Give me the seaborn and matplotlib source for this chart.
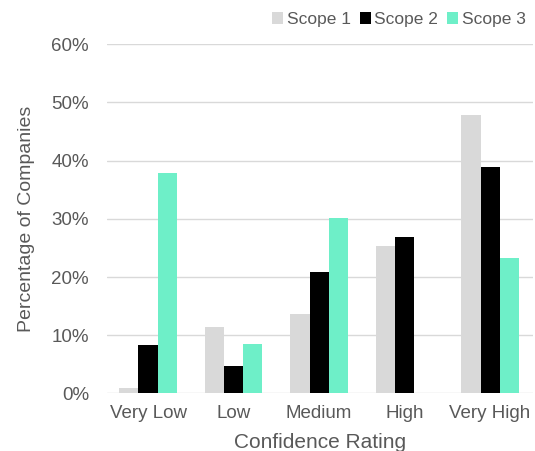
import pandas as pd
import matplotlib
matplotlib.use("Agg")
import matplotlib.pyplot as plt
import seaborn as sns
from matplotlib.ticker import PercentFormatter

# data (percent of companies)
ratings = ["Very Low", "Low", "Medium", "High", "Very High"]
scope1 = [1.0, 11.4, 13.7, 25.3, 47.9]
scope2 = [8.3, 4.7, 20.8, 26.9, 38.9]
scope3 = [37.8, 8.5, 30.2, 0.0, 23.3]
scopes = ["Scope 1", "Scope 2", "Scope 3"]
colors = ["#D9D9D9", "#000000", "#6EEFC8"]

df = pd.DataFrame({"Rating": ratings, "Scope 1": scope1, "Scope 2": scope2, "Scope 3": scope3})
df = df.melt(id_vars="Rating", var_name="Scope", value_name="Pct")

sns.set_style("white")
plt.rcParams["font.family"] = ["Liberation Sans", "DejaVu Sans"]
grey = "#595959"

fig = plt.figure(figsize=(5.35, 4.51), dpi=100)
ax = fig.add_axes([0.2, 0.1275, 0.796, 0.7745])
sns.barplot(data=df, x="Rating", y="Pct", hue="Scope", hue_order=scopes,
            palette=colors, width=0.67, ax=ax, edgecolor="none", saturation=1)

ax.set_ylim(0, 60)
ax.set_xlim(-0.48, 4.5)
ax.set_yticks(range(0, 61, 10))
ax.yaxis.set_major_formatter(PercentFormatter(decimals=0))
ax.grid(axis="y", color="#D9D9D9", linewidth=1)
ax.set_axisbelow(True)
sns.despine(ax=ax, left=True, bottom=True, top=True, right=True)
ax.tick_params(axis="both", length=0, labelsize=13.5, colors=grey)
ax.tick_params(axis="y", pad=13)
ax.tick_params(axis="x", pad=8)
ax.set_xlabel("Confidence Rating", fontsize=15, color=grey, labelpad=8)
ax.set_ylabel("Percentage of Companies", fontsize=14, color=grey, labelpad=12)

handles, labels = ax.get_legend_handles_labels()
ax.legend(handles, labels, loc="upper right", bbox_to_anchor=(1.005, 1.0),
          bbox_transform=fig.transFigure, ncol=3, frameon=False,
          handlelength=0.65, handleheight=0.65, handletextpad=0.2,
          columnspacing=0.5, fontsize=12.5, labelcolor=grey, borderpad=0.2)

fig.savefig("out.png", dpi=100)
